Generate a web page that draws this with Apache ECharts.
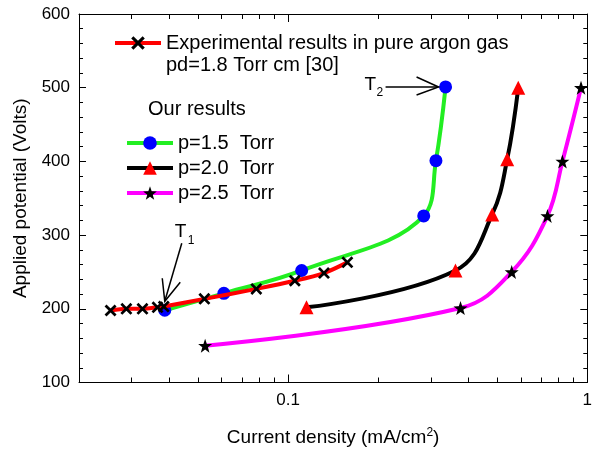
<!DOCTYPE html>
<html>
<head>
<meta charset="utf-8">
<script src="https://cdn.jsdelivr.net/npm/echarts@6/dist/echarts.min.js"></script>
<style>
html,body{margin:0;padding:0;background:#fff}
#main{width:595px;height:452px}
</style>
</head>
<body>
<div id="main"></div>
<script>
// experimental, pd=1.8 Torr cm [30]
var expX = [0.0255, 0.0288, 0.0326, 0.0366, 0.0384, 0.0525, 0.0783, 0.1053, 0.1318, 0.1578];
var expY = [197.7, 200, 200, 202, 203, 213.5, 227, 238, 248.5, 263];
// our results
var p15X = [0.0387, 0.061, 0.111, 0.284, 0.312, 0.336];
var p15Y = [198, 221, 252, 326, 401, 501];
var p20X = [0.1152, 0.3626, 0.481, 0.540, 0.588];
var p20Y = [202, 252, 328, 403, 500];
var p25X = [0.0528, 0.377, 0.559, 0.736, 0.826, 0.953];
var p25Y = [150, 201, 250, 326, 400, 500];

var xMajor = [0.1, 1];
var xMinor = [0.03, 0.04, 0.05, 0.06, 0.07, 0.08, 0.09, 0.2, 0.3, 0.4, 0.5, 0.6, 0.7, 0.8, 0.9];

var FONT = 'Liberation Sans, Arial, sans-serif';
var crossSym = 'path://M0,1.6 L1.6,0 L5,3.4 L8.4,0 L10,1.6 L6.6,5 L10,8.4 L8.4,10 L5,6.6 L1.6,10 L0,8.4 L3.4,5 Z';
var starSym = 'path://M50,0 L61.76,33.82 L97.55,34.55 L69.02,56.18 L79.39,90.45 L50,70 L20.61,90.45 L30.98,56.18 L2.45,34.55 L38.24,33.82 Z';

function pairs(xs, ys) {
	var out = [];
	for (var i = 0; i < xs.length; i++) out.push([xs[i], ys[i]]);
	return out;
}

function logAxis(pos, ticks, len, withLine) {
	return {
		type: 'log', logBase: 10, min: 0.02, max: 1, position: pos,
		axisLine: {show: withLine, lineStyle: {color: '#000', width: 1}},
		axisTick: {inside: true, length: len, customValues: ticks, lineStyle: {color: '#000'}},
		axisLabel: {show: false},
		splitLine: {show: false}
	};
}

function valAxis(pos, showLabel) {
	return {
		type: 'value', min: 100, max: 600, interval: 100, position: pos,
		axisLine: {show: true, lineStyle: {color: '#000', width: 1}},
		axisTick: {inside: true, length: 7, lineStyle: {color: '#000'}},
		minorTick: {show: true, splitNumber: 5, length: 4, lineStyle: {color: '#000'}},
		axisLabel: {show: showLabel, color: '#000', fontSize: 17, fontFamily: FONT, margin: 9},
		splitLine: {show: false}
	};
}

var bottomAxis = logAxis('bottom', xMajor, 8, true);
bottomAxis.axisLabel = {
	show: true, customValues: xMajor, color: '#000', fontSize: 17, fontFamily: FONT, margin: 9,
	formatter: function (v) { return v >= 1 ? '1' : '0.1'; }
};
bottomAxis.name = '{n|Current density (mA/cm}{s|2}{n|)}';
bottomAxis.nameLocation = 'middle';
bottomAxis.nameGap = 44;
bottomAxis.nameTextStyle = {
	rich: {
		n: {fontSize: 19, fontFamily: FONT, color: '#000'},
		s: {fontSize: 12, fontFamily: FONT, color: '#000', verticalAlign: 'top', padding: [0, 0, 10, 0]}
	}
};

var leftAxis = valAxis('left', true);
leftAxis.name = 'Applied potential (Volts)';
leftAxis.nameLocation = 'middle';
leftAxis.nameGap = 45;
leftAxis.nameTextStyle = {fontSize: 19, fontFamily: FONT, color: '#000'};

var legendText = {fontSize: 20, fontFamily: FONT, color: '#000'};

var option = {
	animation: false,
	backgroundColor: '#fff',
	textStyle: {fontFamily: FONT},
	grid: {left: 79, right: 7, top: 14, bottom: 68},
	xAxis: [
		bottomAxis,
		logAxis('bottom', xMinor, 5, false),
		logAxis('top', xMajor, 8, true),
		logAxis('top', xMinor, 5, false)
	],
	yAxis: [leftAxis, valAxis('right', false)],
	legend: [
		{
			data: ['Experimental results in pure argon gas'],
			left: 108, top: 28,
			itemWidth: 46, itemHeight: 17, itemGap: 0,
			lineStyle: {width: 4},
			textStyle: legendText
		},
		{
			data: ['p=1.5  Torr', 'p=2.0  Torr', 'p=2.5  Torr'],
			orient: 'vertical',
			left: 120, top: 128, itemGap: 5,
			itemWidth: 46, itemHeight: 17,
			lineStyle: {width: 4},
			textStyle: legendText
		}
	],
	series: [
		{
			name: 'p=1.5  Torr', type: 'line', smooth: 0.4, z: 2,
			data: pairs(p15X, p15Y),
			symbol: 'circle', symbolSize: 13,
			itemStyle: {color: '#0000ff'},
			lineStyle: {color: '#22ee22', width: 4}
		},
		{
			name: 'p=2.0  Torr', type: 'line', smooth: 0.4, z: 2,
			data: pairs(p20X, p20Y),
			symbol: 'triangle', symbolSize: 14,
			itemStyle: {color: '#ff0000'},
			lineStyle: {color: '#000', width: 4}
		},
		{
			name: 'p=2.5  Torr', type: 'line', smooth: 0.4, z: 2,
			data: pairs(p25X, p25Y),
			symbol: starSym, symbolSize: 14,
			itemStyle: {color: '#000'},
			lineStyle: {color: '#ff00ff', width: 4}
		},
		{
			name: 'Experimental results in pure argon gas', type: 'line', smooth: 0.3, z: 3,
			data: pairs(expX, expY),
			symbol: crossSym, symbolSize: 12,
			itemStyle: {color: '#000'},
			lineStyle: {color: '#ff0000', width: 4}
		}
	]
};

var chart = echarts.init(document.getElementById('main'));
chart.setOption(option);

// T1 / T2 arrows hooked to the data points
var t1 = chart.convertToPixel({xAxisIndex: 0, yAxisIndex: 0}, [p15X[0], p15Y[0]]);
var t2 = chart.convertToPixel({xAxisIndex: 0, yAxisIndex: 0}, [p15X[5], p15Y[5]]);
var a1 = [t1[0], t1[1] - 9];
var a2 = [t2[0] - 7, t2[1]];
var ln = {stroke: '#000', lineWidth: 1.5, fill: null};
var txt = '20px ' + FONT;
chart.setOption({
	graphic: [
		{type: 'text', left: 166, top: 55, style: {text: 'pd=1.8 Torr cm [30]', font: txt, fill: '#000'}},
		{type: 'text', left: 148, top: 99, style: {text: 'Our results', font: txt, fill: '#000'}},
		{type: 'polyline', shape: {points: [[a1[0] + 17, a1[1] - 58], a1]}, style: ln, z: 10},
		{type: 'polyline', shape: {points: [[a1[0] - 2.5, a1[1] - 23], a1, [a1[0] + 15.5, a1[1] - 19]]}, style: ln, z: 10},
		{type: 'text', x: a1[0] + 10, y: a1[1] - 79, style: {text: 'T', font: '19px ' + FONT, fill: '#000'}},
		{type: 'text', x: a1[0] + 23, y: a1[1] - 67, style: {text: '1', font: '12px ' + FONT, fill: '#000'}},
		{type: 'polyline', shape: {points: [[a2[0] - 53, a2[1]], a2]}, style: ln, z: 10},
		{type: 'polyline', shape: {points: [[a2[0] - 22, a2[1] - 10], a2, [a2[0] - 22, a2[1] + 8]]}, style: ln, z: 10},
		{type: 'text', x: a2[0] - 74, y: a2[1] - 12, style: {text: 'T', font: '19px ' + FONT, fill: '#000'}},
		{type: 'text', x: a2[0] - 62, y: a2[1], style: {text: '2', font: '12px ' + FONT, fill: '#000'}}
	]
});
</script>
</body>
</html>
